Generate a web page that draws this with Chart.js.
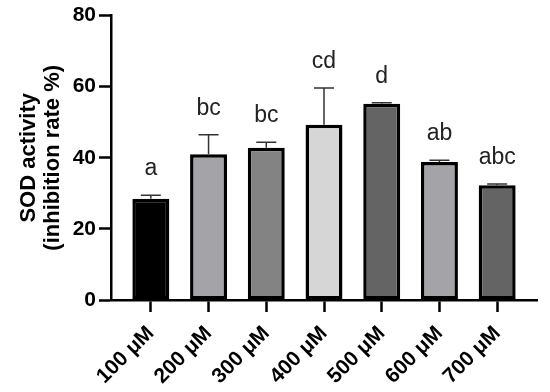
<!DOCTYPE html>
<html lang="en">
<head>
  <meta charset="UTF-8" />
  <title>SOD activity</title>
  <script src="https://cdn.jsdelivr.net/npm/chart.js"></script>
  <style>
    body {
      margin: 0;
      background: #fff;
    }
  </style>
</head>
<body>

  <canvas id="sodChart" width="550" height="392"></canvas>

  <script>
    // values (mean, upper SD) + letters from the post-hoc test
    const doses = ['100 μM', '200 μM', '300 μM', '400 μM', '500 μM', '600 μM', '700 μM'];
    const sodMean = [28.5, 41.0, 42.8, 49.3, 55.2, 38.8, 32.3];
    const sodSd = [1.0, 5.5, 1.6, 10.3, 0.3, 0.5, 0.3];
    const groupLetters = ['a', 'bc', 'bc', 'cd', 'd', 'ab', 'abc'];
    const yTicks = [0, 20, 40, 60, 80];

    const barColors = ['#000000', '#a4a4a8', '#838383', '#d6d6d6', '#646464', '#a4a4a8', '#646464'];
    const fontFamily = '"Liberation Sans", Arial, sans-serif';

    // error bars (upper only) and significance letters on top of each bar
    const errorBarsAndLetters = {
      id: 'errorBarsAndLetters',
      afterDatasetsDraw(chart) {
        const ctx = chart.ctx;
        const yScale = chart.scales.y;
        const bars = chart.getDatasetMeta(0).data;
        ctx.save();
        bars.forEach((bar, i) => {
          const base = yScale.getPixelForValue(sodMean[i]);
          const top = yScale.getPixelForValue(sodMean[i] + sodSd[i]);
          ctx.strokeStyle = '#333';
          ctx.lineWidth = 1.5;
          ctx.beginPath();
          ctx.moveTo(bar.x, base);
          ctx.lineTo(bar.x, top);
          ctx.moveTo(bar.x - 10, top);
          ctx.lineTo(bar.x + 10, top);
          ctx.stroke();

          ctx.fillStyle = '#222';
          ctx.font = '23px ' + fontFamily;
          ctx.textAlign = 'center';
          ctx.textBaseline = 'alphabetic';
          ctx.fillText(groupLetters[i], bar.x, top - 20);
        });
        ctx.restore();
      }
    };

    const ctx = document.getElementById('sodChart').getContext('2d');

    new Chart(ctx, {
      type: 'bar',
      data: {
        datasets: [
          {
            data: sodMean.map((v, i) => ({ x: i, y: v })),
            backgroundColor: barColors,
            borderColor: '#000',
            borderWidth: 3.5,
            borderSkipped: false,
            categoryPercentage: 1,
            barPercentage: 0.64
          }
        ]
      },
      options: {
        responsive: false,
        animation: false,
        layout: {
          padding: { top: 15, right: 13, left: 0, bottom: 0 }
        },
        plugins: {
          legend: { display: false },
          tooltip: { enabled: false }
        },
        scales: {
          x: {
            type: 'linear',
            min: -0.69,
            max: 6.69,
            offset: false,
            afterBuildTicks: (scale) => {
              scale.ticks = doses.map((d, i) => ({ value: i }));
            },
            afterFit: (scale) => {
              scale.height = 92;
            },
            grid: {
              offset: false,
              drawOnChartArea: false,
              tickLength: 12,
              tickWidth: 2.5,
              tickColor: '#000'
            },
            border: { display: true, color: '#000', width: 2.5 },
            ticks: {
              autoSkip: false,
              minRotation: 45,
              maxRotation: 45,
              padding: 9,
              color: '#000',
              font: { family: fontFamily, size: 21, weight: 'bold' },
              callback: (value) => doses[value]
            }
          },
          y: {
            min: 0,
            max: 80,
            afterBuildTicks: (scale) => {
              scale.ticks = yTicks.map(v => ({ value: v }));
            },
            afterFit: (scale) => {
              scale.width = 111;
            },
            grid: {
              drawOnChartArea: false,
              tickLength: 12,
              tickWidth: 2.5,
              tickColor: '#000'
            },
            border: { display: true, color: '#000', width: 2.5 },
            ticks: {
              padding: 3,
              color: '#000',
              font: { family: fontFamily, size: 21, weight: 'bold' }
            },
            title: {
              display: true,
              text: ['SOD activity', '(inhibition rate %)'],
              color: '#000',
              font: { family: fontFamily, size: 22, weight: 'bold', lineHeight: 1.08 },
              padding: { top: 17, bottom: 0 }
            }
          }
        }
      },
      plugins: [errorBarsAndLetters]
    });
  </script>

</body>
</html>
